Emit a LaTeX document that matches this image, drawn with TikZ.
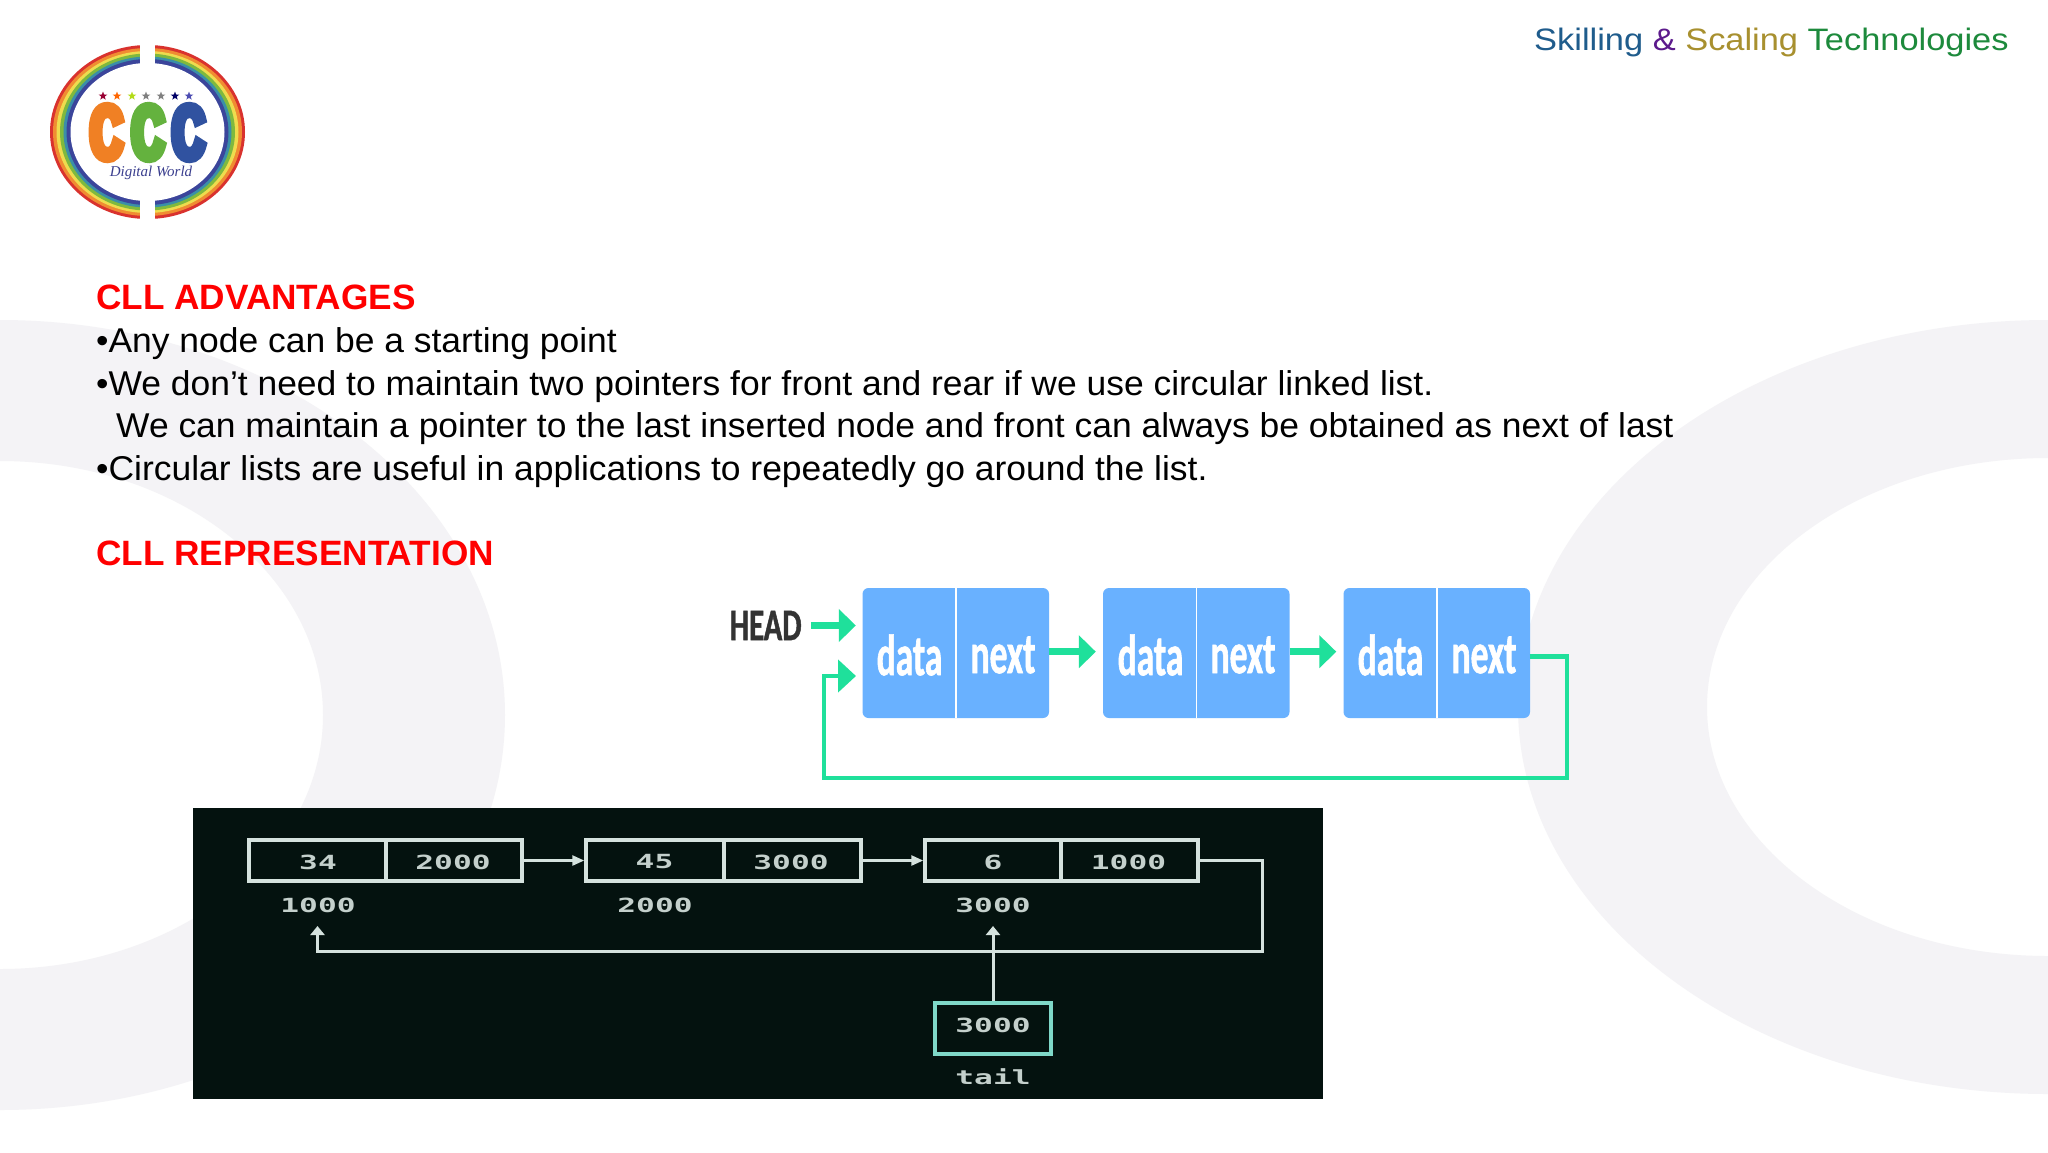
\documentclass[tikz,border=0pt]{standalone}
\usepackage{fontspec}
\usepackage{amsmath}
\usepackage{tikz}
\usetikzlibrary{arrows.meta,shapes.geometric}
\setmainfont{Liberation Sans}
\newfontfamily\bodyfont[FakeStretch=1.03]{Liberation Sans}
\newfontfamily\brandfont[FakeStretch=1.11]{Liberation Sans}
\newfontfamily\listfont[FakeStretch=0.61,BoldFeatures={FakeBold=1}]{Carlito}
\newfontfamily\headfont[FakeStretch=0.68,BoldFeatures={FakeBold=1}]{Carlito}
\newfontfamily\termfont[FakeStretch=1.6]{DejaVu Sans Mono}
\newfontfamily\logofont[FakeStretch=0.58,BoldFeatures={FakeBold=10}]{Liberation Sans}
\newfontfamily\tagfont{Liberation Serif}
\definecolor{ringgray}{HTML}{F4F3F6}
\definecolor{listblue}{HTML}{69B1FF}
\definecolor{listgreen}{HTML}{1FE09B}
\definecolor{termdark}{HTML}{04120F}
\definecolor{termline}{HTML}{D5E2DE}
\definecolor{termlabel}{HTML}{C4D0CC}
\definecolor{tailline}{HTML}{7FD8C8}
\tikzstyle{bodytext} = [anchor=base west,inner sep=0pt,font=\bodyfont\fontsize{34.4}{40}\selectfont]
\tikzstyle{redhead} = [anchor=base west,inner sep=0pt,text=red,font=\fontsize{35.2}{40}\selectfont\bfseries]
\tikzstyle{brand} = [anchor=base west,inner sep=0pt,font=\brandfont\fontsize{31}{36}\selectfont]
\tikzstyle{listbox} = [draw=none,fill=listblue,rounded corners=6pt,minimum width=186.5pt,minimum height=130pt,inner sep=0pt]
\tikzstyle{listtext} = [text=white,inner sep=0pt,font=\listfont\fontsize{58}{60}\selectfont\bfseries]
\tikzstyle{listarrow} = [draw=listgreen,line width=7.5pt,-{Triangle[length=17pt,width=32pt]}]
\tikzstyle{termbox} = [draw=termline,line width=3.5pt,fill=termdark,inner sep=0pt,minimum height=41pt]
\tikzstyle{termtext} = [text=termlabel,inner sep=0pt,font=\termfont\fontsize{19.5}{22}\selectfont\bfseries]
\tikzstyle{termarrow} = [draw=termline,line width=2.6pt,-{Triangle[length=12pt,width=10pt]}]
\tikzstyle{termup} = [draw=termline,line width=3pt,-{Triangle[length=9pt,width=14pt]}]
\tikzstyle{logostar} = [star,star points=5,star point ratio=2.4,inner sep=0pt,minimum size=9pt]
\tikzstyle{logoletter} = [inner sep=0pt,font=\logofont\fontsize{76}{76}\selectfont\bfseries]

\begin{document}
\begin{tikzpicture}[yscale=-1]
	\useasboundingbox (0pt,0pt) rectangle (2048pt,1152pt);
	\fill[white] (0pt,0pt) rectangle (2048pt,1152pt);
	\begin{scope}
		\clip (0pt,0pt) rectangle (2048pt,1152pt);
		\fill[ringgray,even odd rule] (0pt,715pt) ellipse [x radius=505pt,y radius=395pt] (0pt,715pt) ellipse [x radius=323pt,y radius=254pt];
		\fill[ringgray,even odd rule] (2048pt,707pt) ellipse [x radius=530pt,y radius=387pt] (2048pt,707pt) ellipse [x radius=341pt,y radius=249pt];
	\end{scope}

	\fill[fill={rgb,255:red,217;green,50;blue,46}] (147.5pt,132pt) ellipse [x radius=97.5pt,y radius=87pt];
	\fill[fill={rgb,255:red,240;green,140;blue,50}] (147.5pt,132pt) ellipse [x radius=94.5pt,y radius=84pt];
	\fill[fill={rgb,255:red,238;green,220;blue,78}] (147.5pt,132pt) ellipse [x radius=91pt,y radius=81pt];
	\fill[fill={rgb,255:red,127;green,185;blue,62}] (147.5pt,132pt) ellipse [x radius=87.5pt,y radius=78.5pt];
	\fill[fill={rgb,255:red,58;green,143;blue,168}] (147.5pt,132pt) ellipse [x radius=84pt,y radius=75.5pt];
	\fill[fill={rgb,255:red,59;green,69;blue,155}] (147.5pt,132pt) ellipse [x radius=81pt,y radius=73pt];
	\fill[white] (147.5pt,132pt) ellipse [x radius=77pt,y radius=69pt];
	\fill[white] (140pt,40pt) rectangle (155pt,225pt);
	\node[logostar,fill=purple!80!black] (starA) at (103pt,96pt) {};
	\node[logostar,fill=orange!80!red] (starB) at (117pt,96pt) {};
	\node[logostar,fill=yellow!70!green] (starC) at (132pt,96pt) {};
	\node[logostar,fill=gray] (starD) at (146pt,96pt) {};
	\node[logostar,fill=gray] (starE) at (161pt,96pt) {};
	\node[logostar,fill=blue!40!black] (starF) at (175pt,96pt) {};
	\node[logostar,fill=blue!40!gray] (starG) at (189pt,96pt) {};
	\node[logoletter,text={rgb,255:red,240;green,128;blue,36}] (letterA) at (106.5pt,132.5pt) {C};
	\node[logoletter,text={rgb,255:red,100;green,178;blue,62}] (letterB) at (148pt,132.5pt) {C};
	\node[logoletter,text={rgb,255:red,48;green,82;blue,160}] (letterC) at (188.5pt,132.5pt) {C};
	\node[inner sep=0pt,text={rgb,255:red,59;green,63;blue,143},font=\tagfont\itshape\fontsize{15}{15}\selectfont] (logotag) at (151pt,172.5pt) {Digital World};

	\node[brand] (brandtag) at (1534pt,50pt) {\textcolor[HTML]{1F5C8C}{Skilling} \textcolor[HTML]{5C1A8C}{\&} \textcolor[HTML]{A8902F}{Scaling} \textcolor[HTML]{1D8A3C}{Technologies}};

	\node[redhead] (advtitle) at (96pt,309pt) {CLL ADVANTAGES};
	\node[bodytext] (lineA) at (96pt,352pt) {•Any node can be a starting point};
	\node[bodytext] (lineB) at (96pt,395pt) {•We don’t need to maintain two pointers for front and rear if we use circular linked list.};
	\node[bodytext] (lineC) at (116pt,437pt) {We can maintain a pointer to the last inserted node and front can always be obtained as next of last};
	\node[bodytext] (lineD) at (96pt,480pt) {•Circular lists are useful in applications to repeatedly go around the list.};
	\node[redhead] (reptitle) at (96pt,565pt) {CLL REPRESENTATION};

	\node[listbox] (listA) at (955.75pt,653pt) {};
	\node[listbox] (listB) at (1196.25pt,653pt) {};
	\node[listbox] (listC) at (1436.75pt,653pt) {};
	\draw[white,line width=1.5pt] (956pt,588pt) -- (956pt,718pt);
	\draw[white,line width=1.5pt] (1196.5pt,588pt) -- (1196.5pt,718pt);
	\draw[white,line width=1.5pt] (1437pt,588pt) -- (1437pt,718pt);
	\node[listtext] (dataA) at (909.5pt,655pt) {data};
	\node[listtext] (nextA) at (1003pt,655pt) {next};
	\node[listtext] (dataB) at (1150.5pt,655pt) {data};
	\node[listtext] (nextB) at (1243pt,655pt) {next};
	\node[listtext] (dataC) at (1390.5pt,655pt) {data};
	\node[listtext] (nextC) at (1484pt,655pt) {next};
	\node[inner xsep=9pt,inner ysep=0pt,text=black!80,font=\headfont\fontsize{45}{46}\selectfont\bfseries] (head) at (765.7pt,625.5pt) {HEAD};
	\draw[listarrow,shorten >=6.5pt] (head.east) -- (head.east -| listA.west);
	\draw[listarrow,shorten >=7pt] ([yshift=-1.3pt]listA.east) -- ([yshift=-1.3pt]listB.west);
	\draw[listarrow,shorten >=7pt] ([yshift=-1.3pt]listB.east) -- ([yshift=-1.3pt]listC.west);
	\coordinate (backout) at (1529.5pt,656.7pt);
	\coordinate (backin) at (856pt,676pt);
	\draw[draw=listgreen,line width=4.5pt,-{Triangle[length=18pt,width=32pt]}] (backout) -- (1567pt,656.7pt) -- (1567pt,778pt) -- (824pt,778pt) -- (824pt,676pt) -- (backin);

	\fill[termdark] (192.5pt,808pt) rectangle (1323pt,1099pt);
	\node[termbox,minimum width=137pt] (valA) at (317.5pt,860.5pt) {};
	\node[termbox,minimum width=136pt] (ptrA) at (454pt,860.5pt) {};
	\node[termbox,minimum width=138pt] (valB) at (655pt,860.5pt) {};
	\node[termbox,minimum width=137pt] (ptrB) at (792.5pt,860.5pt) {};
	\node[termbox,minimum width=136pt] (valC) at (993pt,860.5pt) {};
	\node[termbox,minimum width=137pt] (ptrC) at (1129.5pt,860.5pt) {};
	\node[termbox,draw=tailline,line width=4pt,minimum width=116pt,minimum height=51pt] (tailbox) at (993pt,1028pt) {};
	\node[termtext] (labelA) at (318pt,862pt) {34};
	\node[termtext] (labelB) at (453pt,862pt) {2000};
	\node[termtext] (labelC) at (654.5pt,862pt) {45};
	\node[termtext] (labelD) at (791pt,862pt) {3000};
	\node[termtext] (labelE) at (993pt,862pt) {6};
	\node[termtext] (labelF) at (1128.5pt,862pt) {1000};
	\node[termtext] (addrA) at (318pt,905pt) {1000};
	\node[termtext] (addrB) at (655pt,905pt) {2000};
	\node[termtext] (addrC) at (993pt,905pt) {3000};
	\node[termtext] (tailvalue) at (993pt,1025pt) {3000};
	\node[termtext] (taillabel) at (993pt,1077pt) {tail};
	\draw[termarrow] (ptrA.east) -- (valB.west);
	\draw[termarrow] (ptrB.east) -- (valC.west);
	\coordinate (loopA) at (1262.5pt,860.5pt);
	\coordinate (loopB) at (1262.5pt,951.7pt);
	\coordinate (loopC) at (317.5pt,951.7pt);
	\coordinate (loopD) at (317.5pt,926pt);
	\coordinate (tailtip) at (993pt,926pt);
	\draw[termup] (ptrC.east) -- (loopA) -- (loopB) -- (loopC) -- (loopD);
	\draw[termup] (tailbox.north) -- (tailtip);
\end{tikzpicture}
\end{document}
